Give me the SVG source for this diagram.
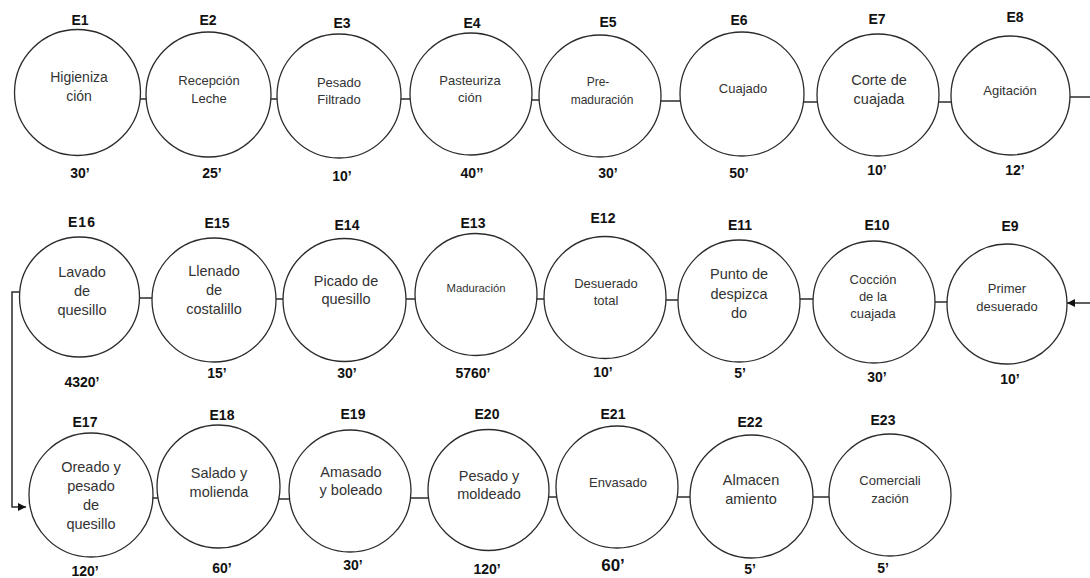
<svg xmlns="http://www.w3.org/2000/svg" width="1090" height="578" viewBox="0 0 1090 578">
  <style>
    .st { fill: #ffffff; stroke: #2b2b2b; stroke-width: 1.3; }
    .tag { font-family: "Liberation Sans", Arial, sans-serif; font-weight: bold; font-size: 14px; fill: #111; text-anchor: middle; }
    .tm { font-family: "Liberation Sans", Arial, sans-serif; font-weight: bold; font-size: 14px; fill: #111; text-anchor: middle; }
    .tx { font-family: "Liberation Sans", Arial, sans-serif; font-size: 14.5px; fill: #333; text-anchor: middle; }
    .s13 { font-size: 13px; }
    .s12 { font-size: 12px; }
    .s11 { font-size: 11.3px; }
    .ln { stroke: #2b2b2b; stroke-width: 1.5; fill: none; }
  </style>
  <defs>
    <marker id="arr" viewBox="0 0 10 10" refX="10" refY="5" markerWidth="8" markerHeight="8" markerUnits="userSpaceOnUse" orient="auto">
      <path d="M0,0 L10,5 L0,10 z" fill="#111"/>
    </marker>
  </defs>
  <rect width="1090" height="578" fill="#ffffff"/>

  <!-- connectors -->
  <g id="connectors">
    <line class="ln" x1="138" y1="99" x2="148" y2="99"/>
    <line class="ln" x1="269" y1="99" x2="279" y2="99"/>
    <line class="ln" x1="399" y1="99" x2="412" y2="99"/>
    <line class="ln" x1="530" y1="100" x2="541" y2="100"/>
    <line class="ln" x1="659" y1="101" x2="682" y2="101"/>
    <line class="ln" x1="801" y1="102" x2="819" y2="102"/>
    <line class="ln" x1="937" y1="102" x2="953" y2="102"/>
    <line class="ln" x1="1068" y1="97" x2="1090" y2="97"/>

    <line class="ln" x1="137" y1="298" x2="154" y2="298"/>
    <line class="ln" x1="274" y1="299" x2="285" y2="299"/>
    <line class="ln" x1="404" y1="299" x2="417" y2="299"/>
    <line class="ln" x1="535" y1="299" x2="546" y2="299"/>
    <line class="ln" x1="664" y1="300" x2="680" y2="300"/>
    <line class="ln" x1="798" y1="299" x2="815" y2="299"/>
    <line class="ln" x1="933" y1="302" x2="949" y2="302"/>
    <line class="ln" x1="1090" y1="303" x2="1067" y2="303" marker-end="url(#arr)"/>

    <!-- return path from E16 down to E17 -->
    <polyline class="ln" points="21,292 12,292 12,507 26,507" marker-end="url(#arr)"/>

    <line class="ln" x1="151" y1="498" x2="159" y2="498"/>
    <line class="ln" x1="278" y1="499" x2="290" y2="499"/>
    <line class="ln" x1="410" y1="498" x2="430" y2="498"/>
    <line class="ln" x1="547" y1="497" x2="558" y2="497"/>
    <line class="ln" x1="676" y1="497" x2="692" y2="497"/>
    <line class="ln" x1="811" y1="497" x2="831" y2="497"/>
  </g>

  <!-- row 1 -->
  <g id="E1">
    <circle class="st" cx="77.5" cy="92.5" r="63"/>
    <text class="tag" x="80" y="25">E1</text>
    <text class="tx" x="79" y="82" style="font-size:14px">Higieniza</text>
    <text class="tx" x="79" y="101" style="font-size:14px">ción</text>
    <text class="tm" x="80" y="178">30’</text>
  </g>
  <g id="E2">
    <circle class="st" cx="208.5" cy="94.5" r="62.5"/>
    <text class="tag" x="208" y="25">E2</text>
    <text class="tx s13" x="209" y="85">Recepción</text>
    <text class="tx s13" x="209" y="103">Leche</text>
    <text class="tm" x="212" y="178">25’</text>
  </g>
  <g id="E3">
    <circle class="st" cx="339" cy="96" r="62"/>
    <text class="tag" x="342" y="28">E3</text>
    <text class="tx s13" x="339" y="87">Pesado</text>
    <text class="tx s13" x="339" y="104">Filtrado</text>
    <text class="tm" x="342" y="181">10’</text>
  </g>
  <g id="E4">
    <circle class="st" cx="471" cy="94" r="61"/>
    <text class="tag" x="472" y="28">E4</text>
    <text class="tx s13" x="470" y="85">Pasteuriza</text>
    <text class="tx s13" x="470" y="102">ción</text>
    <text class="tm" x="472" y="178">40’’</text>
  </g>
  <g id="E5">
    <circle class="st" cx="600" cy="96" r="61"/>
    <text class="tag" x="608" y="27">E5</text>
    <text class="tx s12" x="598" y="86">Pre-</text>
    <text class="tx s12" x="602" y="104">maduración</text>
    <text class="tm" x="608" y="178">30’</text>
  </g>
  <g id="E6">
    <circle class="st" cx="742" cy="94" r="62"/>
    <text class="tag" x="739" y="25">E6</text>
    <text class="tx s13" x="743" y="93">Cuajado</text>
    <text class="tm" x="739" y="178">50’</text>
  </g>
  <g id="E7">
    <circle class="st" cx="878" cy="95" r="61"/>
    <text class="tag" x="877" y="24">E7</text>
    <text class="tx" x="879" y="85">Corte de</text>
    <text class="tx" x="879" y="104">cuajada</text>
    <text class="tm" x="877" y="175">10’</text>
  </g>
  <g id="E8">
    <circle class="st" cx="1010.5" cy="95.5" r="59.5"/>
    <text class="tag" x="1015" y="22">E8</text>
    <text class="tx s13" x="1010" y="95">Agitación</text>
    <text class="tm" x="1015" y="175">12’</text>
  </g>

  <!-- row 2 -->
  <g id="E16">
    <circle class="st" cx="79.5" cy="297" r="60"/>
    <text class="tag" x="82" y="227" letter-spacing="1">E16</text>
    <text class="tx" x="82" y="277">Lavado</text>
    <text class="tx" x="82" y="296">de</text>
    <text class="tx" x="82" y="315">quesillo</text>
    <text class="tm" x="82" y="387">4320’</text>
  </g>
  <g id="E15">
    <circle class="st" cx="214" cy="300" r="62"/>
    <text class="tag" x="217" y="228">E15</text>
    <text class="tx" x="214" y="276">Llenado</text>
    <text class="tx" x="214" y="295">de</text>
    <text class="tx" x="214" y="314">costalillo</text>
    <text class="tm" x="217" y="378">15’</text>
  </g>
  <g id="E14">
    <circle class="st" cx="344.5" cy="300" r="61.5"/>
    <text class="tag" x="347" y="230">E14</text>
    <text class="tx" x="346" y="286">Picado de</text>
    <text class="tx" x="346" y="304">quesillo</text>
    <text class="tm" x="347" y="378">30’</text>
  </g>
  <g id="E13">
    <circle class="st" cx="476" cy="294.5" r="61"/>
    <text class="tag" x="473" y="228">E13</text>
    <text class="tx s11" x="476" y="292">Maduración</text>
    <text class="tm" x="473" y="378">5760’</text>
  </g>
  <g id="E12">
    <circle class="st" cx="605" cy="297.5" r="61"/>
    <text class="tag" x="603" y="223">E12</text>
    <text class="tx s13" x="606" y="288">Desuerado</text>
    <text class="tx s13" x="606" y="305">total</text>
    <text class="tm" x="603" y="377">10’</text>
  </g>
  <g id="E11">
    <circle class="st" cx="739" cy="301" r="61"/>
    <text class="tag" x="740" y="230">E11</text>
    <text class="tx" x="739" y="279">Punto de</text>
    <text class="tx" x="739" y="299">despizca</text>
    <text class="tx" x="739" y="318">do</text>
    <text class="tm" x="740" y="378">5’</text>
  </g>
  <g id="E10">
    <circle class="st" cx="874" cy="302" r="61"/>
    <text class="tag" x="877" y="230">E10</text>
    <text class="tx s13" x="873" y="284">Cocción</text>
    <text class="tx s13" x="873" y="301">de la</text>
    <text class="tx s13" x="873" y="318">cuajada</text>
    <text class="tm" x="877" y="382">30’</text>
  </g>
  <g id="E9">
    <circle class="st" cx="1007" cy="304" r="60"/>
    <text class="tag" x="1010" y="231">E9</text>
    <text class="tx s13" x="1007" y="293">Primer</text>
    <text class="tx s13" x="1007" y="311">desuerado</text>
    <text class="tm" x="1010" y="384">10’</text>
  </g>

  <!-- row 3 -->
  <g id="E17">
    <circle class="st" cx="91" cy="495" r="62"/>
    <text class="tag" x="85" y="427">E17</text>
    <text class="tx" x="91" y="472">Oreado y</text>
    <text class="tx" x="91" y="491">pesado</text>
    <text class="tx" x="91" y="510">de</text>
    <text class="tx" x="91" y="529">quesillo</text>
    <text class="tm" x="85" y="576">120’</text>
  </g>
  <g id="E18">
    <circle class="st" cx="218.5" cy="486.5" r="61.5"/>
    <text class="tag" x="222" y="420">E18</text>
    <text class="tx" x="219" y="478">Salado y</text>
    <text class="tx" x="219" y="497">molienda</text>
    <text class="tm" x="222" y="573">60’</text>
  </g>
  <g id="E19">
    <circle class="st" cx="350" cy="491" r="61"/>
    <text class="tag" x="353" y="419">E19</text>
    <text class="tx" x="351" y="477">Amasado</text>
    <text class="tx" x="351" y="495">y boleado</text>
    <text class="tm" x="353" y="570">30’</text>
  </g>
  <g id="E20">
    <circle class="st" cx="488.5" cy="490" r="60.5"/>
    <text class="tag" x="487" y="419">E20</text>
    <text class="tx" x="489" y="481">Pesado y</text>
    <text class="tx" x="489" y="499">moldeado</text>
    <text class="tm" x="487" y="574">120’</text>
  </g>
  <g id="E21">
    <circle class="st" cx="617" cy="487" r="61"/>
    <text class="tag" x="613" y="419">E21</text>
    <text class="tx s13" x="618" y="487">Envasado</text>
    <text class="tm" x="613" y="571" style="font-size:17px">60’</text>
  </g>
  <g id="E22">
    <circle class="st" cx="751.5" cy="496.5" r="61.5"/>
    <text class="tag" x="750" y="427">E22</text>
    <text class="tx" x="751" y="485">Almacen</text>
    <text class="tx" x="751" y="504">amiento</text>
    <text class="tm" x="750" y="574">5’</text>
  </g>
  <g id="E23">
    <circle class="st" cx="890" cy="495" r="61"/>
    <text class="tag" x="883" y="425">E23</text>
    <text class="tx s13" x="890" y="485">Comerciali</text>
    <text class="tx s13" x="890" y="503">zación</text>
    <text class="tm" x="883" y="573">5’</text>
  </g>
</svg>
